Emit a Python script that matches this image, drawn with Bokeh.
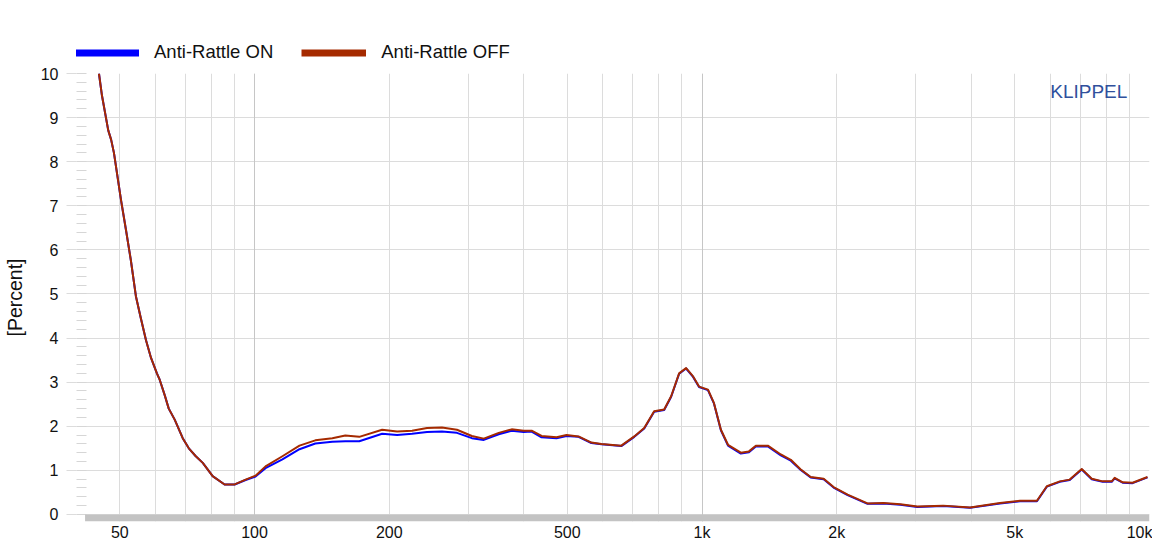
from bokeh.plotting import figure
from bokeh.layouts import column
from bokeh.models import (FixedTicker, Grid, Legend, LegendItem, Label,
                          BoxAnnotation, Range1d, ColumnDataSource)
from bokeh.embed import file_html
from bokeh.resources import INLINE

# ---------------- data ----------------
freq_hz = [44.9, 45.6, 47.1, 47.8, 48.5, 50.3, 51.6, 52.9, 54.3, 55.7,
           57.2, 58.7, 60.5, 61.4, 63.0, 64.3, 66.3, 69.1, 71.3, 73.9,
           76.6, 80.6, 85.7, 90.3, 95.5, 100.5, 105.8, 115.4, 126.0, 136.7,
           149.2, 159.5, 171.4, 192.8, 208.2, 224.9, 242.9, 262.3, 283.3, 305.9,
           325.3, 351.3, 375.5, 399.3, 416.1, 437.9, 473.0, 497.9, 529.6, 565.9,
           595.8, 660.1, 705.7, 742.7, 781.7, 823.0, 853.1, 888.8, 921.3, 955.0,
           984.7, 1031, 1063, 1102, 1143, 1221, 1273, 1319, 1403, 1500,
           1579, 1662, 1749, 1870, 1968, 2115, 2343, 2543, 2775, 3028,
           3459, 3973, 4634, 5134, 5603, 5897, 6303, 6633, 7056, 7429,
           7858, 8233, 8359, 8709, 9166, 9897]

rattle_off = [10.0, 9.5, 8.71, 8.5, 8.2, 7.13, 6.45, 5.77, 4.95, 4.45,
              3.95, 3.55, 3.2, 3.05, 2.7, 2.4, 2.15, 1.73, 1.5, 1.32,
              1.17, 0.87, 0.68, 0.68, 0.79, 0.88, 1.09, 1.32, 1.56, 1.68,
              1.73, 1.79, 1.76, 1.92, 1.88, 1.9, 1.96, 1.97, 1.92, 1.78,
              1.72, 1.85, 1.93, 1.9, 1.9, 1.78, 1.75, 1.8, 1.77, 1.63,
              1.6, 1.56, 1.77, 1.96, 2.34, 2.38, 2.68, 3.2, 3.32, 3.13,
              2.9, 2.83, 2.53, 1.92, 1.58, 1.4, 1.43, 1.56, 1.56, 1.36,
              1.24, 1.02, 0.85, 0.81, 0.62, 0.45, 0.25, 0.26, 0.23, 0.18,
              0.2, 0.16, 0.26, 0.31, 0.31, 0.64, 0.75, 0.79, 1.03, 0.81,
              0.75, 0.75, 0.83, 0.73, 0.72, 0.85]

rattle_on = [10.0, 9.5, 8.71, 8.5, 8.2, 7.13, 6.45, 5.77, 4.95, 4.45,
             3.95, 3.55, 3.2, 3.05, 2.7, 2.4, 2.15, 1.73, 1.5, 1.32,
             1.17, 0.87, 0.68, 0.68, 0.78, 0.86, 1.05, 1.25, 1.48, 1.61,
             1.65, 1.66, 1.66, 1.83, 1.8, 1.83, 1.87, 1.88, 1.85, 1.73,
             1.69, 1.82, 1.9, 1.87, 1.88, 1.75, 1.73, 1.78, 1.76, 1.62,
             1.59, 1.55, 1.76, 1.95, 2.33, 2.37, 2.67, 3.19, 3.31, 3.12,
             2.89, 2.82, 2.52, 1.91, 1.56, 1.38, 1.41, 1.54, 1.54, 1.34,
             1.22, 1.01, 0.84, 0.8, 0.61, 0.44, 0.24, 0.25, 0.22, 0.17,
             0.19, 0.15, 0.25, 0.3, 0.3, 0.63, 0.74, 0.78, 1.02, 0.8,
             0.74, 0.74, 0.82, 0.72, 0.71, 0.84]

series_names = ["Anti-Rattle ON", "Anti-Rattle OFF"]
x_tick_values = [50, 100, 200, 500, 1000, 2000, 5000, 10000]
x_tick_labels = ["50", "100", "200", "500", "1k", "2k", "5k", "10k"]
x_grid_values = [40, 50, 60, 70, 80, 90, 100, 200, 300, 400, 500, 600, 700, 800, 900,
                 1000, 2000, 3000, 4000, 5000, 6000, 7000, 8000, 9000, 10000]
x_decades = [100, 1000]
y_tick_values = [0, 1, 2, 3, 4, 5, 6, 7, 8, 9, 10]
y_minor_values = [i / 5 for i in range(0, 51)]

# ---------------- styling ----------------
C_ON = "#0000ff"
C_OFF = "#a52a00"
GRID = "#dcdcdc"
FONT = "Liberation Sans"

src = ColumnDataSource(dict(f=freq_hz, on=rattle_on, off=rattle_off))

# ---------- main chart ----------
p = figure(width=1152, height=480, x_axis_type="log",
           x_range=Range1d(40, 10000), y_range=Range1d(-0.16, 10),
           output_backend="svg", toolbar_location=None,
           min_border_left=75, min_border_right=3, min_border_top=10,
           min_border_bottom=0)
p.outline_line_color = None
p.background_fill_color = "white"
p.border_fill_color = "white"

p.line("f", "on", source=src, line_color=C_ON, line_width=2, line_join="round")
p.line("f", "off", source=src, line_color=C_OFF, line_width=2, line_join="round")

# grey band below the zero line
p.add_layout(BoxAnnotation(bottom=-0.16, top=0, left=41.8, fill_color="#c3c3c3",
                           fill_alpha=1, line_color=None))

# x axis
xa = p.xaxis[0]
xa.ticker = FixedTicker(ticks=x_tick_values, minor_ticks=[])
xa.major_label_overrides = {v: l for v, l in zip(x_tick_values, x_tick_labels)}
xa.major_tick_out = 0
xa.major_tick_in = 0
xa.minor_tick_out = 0
xa.minor_tick_in = 0
xa.axis_line_color = None
xa.major_label_standoff = 2
xa.major_label_text_font = FONT
xa.major_label_text_font_size = "16px"
xa.major_label_text_color = "#111111"

p.xgrid.ticker = FixedTicker(ticks=x_grid_values)
p.xgrid.grid_line_color = GRID
p.add_layout(Grid(dimension=0, ticker=FixedTicker(ticks=x_decades),
                  grid_line_color="#c6c6c6"))

# y axis
ya = p.yaxis[0]
ya.ticker = FixedTicker(ticks=y_tick_values, minor_ticks=y_minor_values)
ya.axis_line_color = None
ya.major_tick_out = 10
ya.major_tick_in = 0
ya.major_tick_line_color = GRID
ya.minor_tick_out = 0
ya.minor_tick_in = 10
ya.minor_tick_line_color = "#d6d6d6"
ya.major_label_standoff = 8
ya.major_label_text_font = FONT
ya.major_label_text_font_size = "16px"
ya.major_label_text_color = "#111111"
ya.axis_label = "[Percent]"
ya.axis_label_text_font = FONT
ya.axis_label_text_font_style = "normal"
ya.axis_label_text_font_size = "19.5px"
ya.axis_label_text_color = "#111111"
ya.axis_label_standoff = 12

p.ygrid.ticker = FixedTicker(ticks=y_tick_values)
p.ygrid.grid_line_color = GRID

p.add_layout(Label(x=6000, y=9.6, text="KLIPPEL", text_font=FONT,
                   text_font_size="19px", text_color="#30509c",
                   text_baseline="middle", text_align="left"))

# ---------- legend strip above the chart ----------
lg = figure(width=1152, height=63, x_axis_type="log",
            x_range=Range1d(40, 10000), y_range=Range1d(100, 101),
            output_backend="svg", toolbar_location=None,
            x_axis_location=None, y_axis_location=None,
            min_border_left=0, min_border_right=0, min_border_top=0,
            min_border_bottom=0)
lg.outline_line_color = None
lg.xgrid.visible = False
lg.ygrid.visible = False
# swatches: the same series drawn thick, kept outside this strip's visible range
sw_on = lg.line("f", "on", source=src, line_color=C_ON, line_width=7)
sw_off = lg.line("f", "off", source=src, line_color=C_OFF, line_width=7)
legend = Legend(items=[LegendItem(label=series_names[0], renderers=[sw_on]),
                       LegendItem(label=series_names[1], renderers=[sw_off])],
                location=(-2, 0), orientation="horizontal",
                glyph_width=65, glyph_height=21, label_height=21,
                label_standoff=15, spacing=28,
                padding=0, margin=0, border_line_color=None,
                background_fill_alpha=0, label_text_font=FONT,
                label_text_font_size="18.5px", label_text_color="#111111")
lg.add_layout(legend)

page = column(lg, p, spacing=0)
open("out.html", "w").write(file_html(page, INLINE))
